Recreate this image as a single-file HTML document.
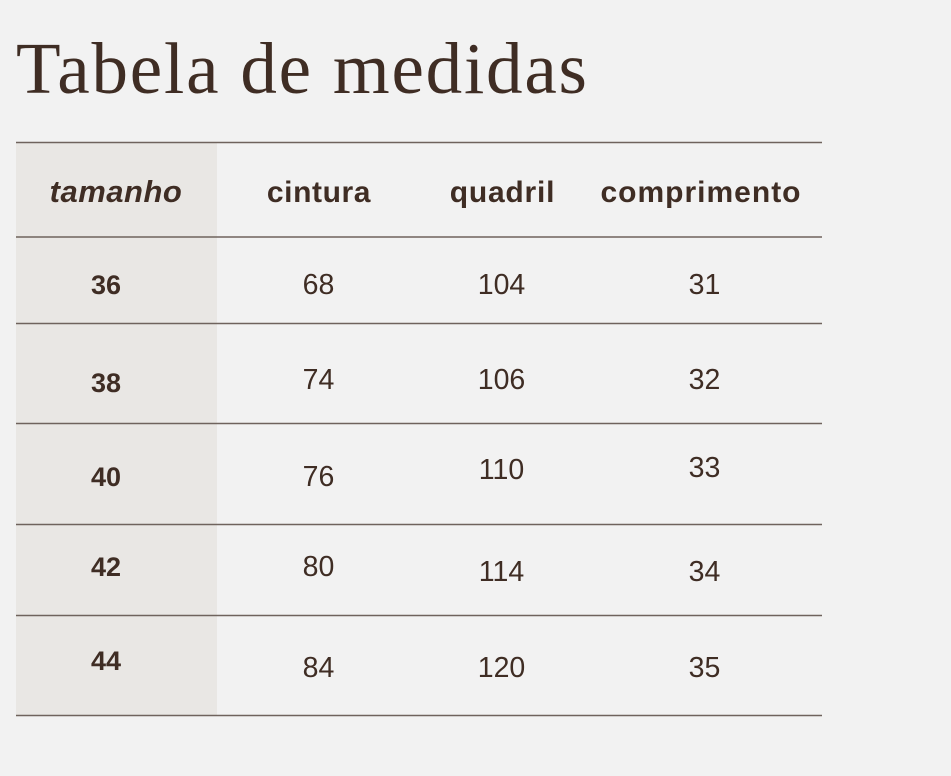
<!DOCTYPE html>
<html>
<head>
<meta charset="utf-8">
<style>
  html, body { margin:0; padding:0; background:#f2f2f2; }
  body { width:951px; height:776px; overflow:hidden; }
  svg { display:block; }
</style>
</head>
<body>
<svg width="951" height="776" viewBox="0 0 951 776" xmlns="http://www.w3.org/2000/svg">
  <rect x="0" y="0" width="951" height="776" fill="#f2f2f2"/>
  <!-- left column shade -->
  <rect x="16" y="142" width="201" height="573" fill="#e9e7e4"/>

  <!-- title -->
  <text x="16" y="93" font-family="'Liberation Serif', serif" font-size="73" letter-spacing="1.8" fill="#3f2d24">Tabela de medidas</text>

  <!-- lines -->
  <g stroke="#6f635d" stroke-width="1.5">
    <line x1="16" y1="142.5" x2="822" y2="142.5"/>
    <line x1="16" y1="237" x2="822" y2="237"/>
    <line x1="16" y1="323.5" x2="822" y2="323.5"/>
    <line x1="16" y1="423.5" x2="822" y2="423.5"/>
    <line x1="16" y1="524.5" x2="822" y2="524.5"/>
    <line x1="16" y1="615.5" x2="822" y2="615.5"/>
    <line x1="16" y1="715.5" x2="822" y2="715.5"/>
  </g>

  <!-- header -->
  <g font-family="'Liberation Sans', sans-serif" font-weight="bold" fill="#3f2d24" text-anchor="middle">
    <text x="116" y="202" font-size="31" font-style="italic" letter-spacing="0.5">tamanho</text>
    <text x="319" y="202" font-size="30" letter-spacing="0.6">cintura</text>
    <text x="502.5" y="202" font-size="30" letter-spacing="0.8">quadril</text>
    <text x="701" y="202" font-size="30" letter-spacing="1">comprimento</text>
  </g>

  <!-- size column -->
  <g font-family="'Liberation Sans', sans-serif" font-weight="bold" font-size="27" fill="#3f2d24" text-anchor="middle">
    <text x="106" y="294">36</text>
    <text x="106" y="392">38</text>
    <text x="106" y="486">40</text>
    <text x="106" y="576">42</text>
    <text x="106" y="670">44</text>
  </g>

  <!-- values -->
  <g font-family="'Liberation Sans', sans-serif" font-size="28.5" fill="#3f2d24" text-anchor="middle">
    <text x="318.5" y="294">68</text>
    <text x="501.5" y="294">104</text>
    <text x="704.5" y="294">31</text>

    <text x="318.5" y="389">74</text>
    <text x="501.5" y="389">106</text>
    <text x="704.5" y="389">32</text>

    <text x="318.5" y="486">76</text>
    <text x="501.5" y="479">110</text>
    <text x="704.5" y="477">33</text>

    <text x="318.5" y="576">80</text>
    <text x="501.5" y="581">114</text>
    <text x="704.5" y="581">34</text>

    <text x="318.5" y="677">84</text>
    <text x="501.5" y="677">120</text>
    <text x="704.5" y="677">35</text>
  </g>
</svg>
</body>
</html>
